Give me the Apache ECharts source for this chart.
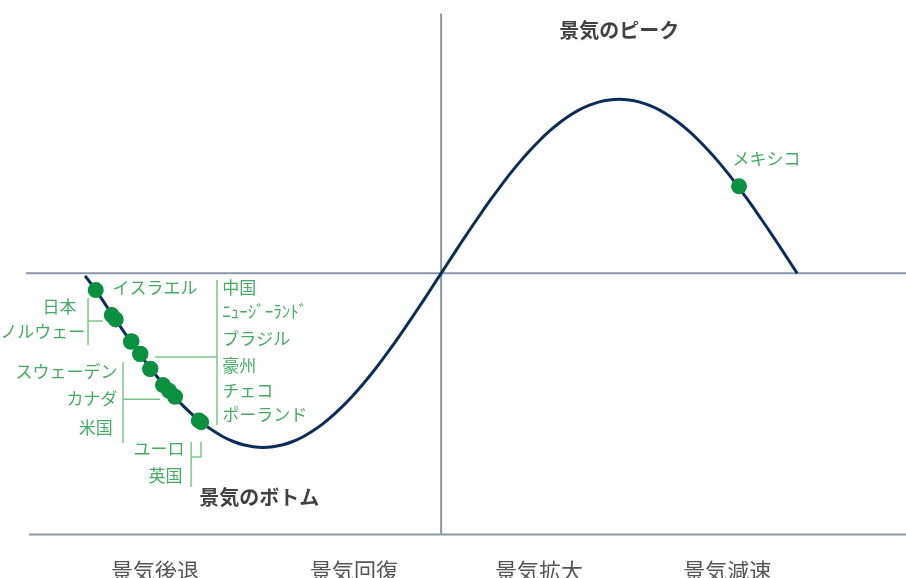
<!DOCTYPE html>
<html>
<head>
<meta charset="utf-8">
<script src="https://cdn.jsdelivr.net/npm/echarts@6/dist/echarts.min.js"></script>
<style>
html,body{margin:0;padding:0;background:#fff;}
#chart{width:906px;height:578px;}
</style>
</head>
<body>
<div id="chart"></div>
<script>
// Business-cycle curve (phase in degrees, cycle value), read every 5 degrees
const curveT = [-180,-175,-170,-165,-160,-155,-150,-145,-140,-135,-130,-125,-120,-115,-110,-105,-100,-95,-90,-85,-80,-75,-70,-65,-60,-55,-50,-45,-40,-35,-30,-25,-20,-15,-10,-5,0,5,10,15,20,25,30,35,40,45,50,55,60,65,70,75,80,85,90,95,100,105,110,115,120,125,130,135,140,145,150,155,160,165,170,175,180];
const curveV = [-0.015,-0.09,-0.174,-0.259,-0.342,-0.423,-0.5,-0.574,-0.643,-0.707,-0.766,-0.819,-0.866,-0.906,-0.94,-0.966,-0.985,-0.996,-1.0,-0.996,-0.985,-0.966,-0.94,-0.906,-0.866,-0.819,-0.766,-0.707,-0.643,-0.574,-0.5,-0.423,-0.342,-0.259,-0.174,-0.087,0,0.087,0.174,0.259,0.342,0.423,0.5,0.574,0.643,0.707,0.766,0.819,0.866,0.906,0.94,0.966,0.985,0.996,1.0,0.996,0.985,0.966,0.94,0.906,0.866,0.819,0.766,0.707,0.643,0.574,0.5,0.423,0.342,0.259,0.174,0.087,0];

// Countries placed on the curve
const countryNames = ['イスラエル','日本','ノルウェー','中国','ﾆｭｰｼﾞｰﾗﾝﾄﾞ','ブラジル','豪州','チェコ','ポーランド','スウェーデン','カナダ','米国','ユーロ','英国','メキシコ'];
const countryT = [-174.6,-166.5,-164.5,-156.8,-156.5,-152.2,-152.0,-147.1,-147.0,-140.6,-137.5,-134.5,-122.5,-121.3,150.6];
const countryV = [-0.096,-0.24,-0.265,-0.393,-0.39,-0.464,-0.462,-0.55,-0.548,-0.642,-0.675,-0.709,-0.845,-0.855,0.5];

// Country label anchors (data coords) and side
const labelNames = ['イスラエル','日本','ノルウェー','スウェーデン','カナダ','米国','中国','ﾆｭｰｼﾞｰﾗﾝﾄﾞ','ブラジル','豪州','チェコ','ポーランド','ユーロ','英国','メキシコ'];
const labelT = [-166.4,-184.1,-179.6,-163.3,-163.3,-165.8,-110.9,-110.9,-110.9,-110.9,-110.9,-110.9,-129.5,-130.5,147];
const labelV = [-0.079,-0.188,-0.337,-0.567,-0.722,-0.888,-0.084,-0.222,-0.377,-0.527,-0.676,-0.814,-1.009,-1.159,0.657];
const labelSide = ['right','left','left','left','left','left','right','right','right','right','right','right','left','left','right'];

// Phase titles
const peakTitle = '景気のピーク';
const bottomTitle = '景気のボトム';
const titleT = [90, -92];
const titleV = [1.397, -1.285];

// Phase names along the bottom
const phaseLabels = ['景気後退','景気回復','景気拡大','景気減速'];
const phaseT = [-144.6,-44.0,49.5,144.6];
const phaseV = -1.709;

// Axis lines (data coords)
const axisLines = [
  [[-209.8,0],[235,0]],
  [[-208.3,-1.5],[235,-1.5]],
  [[0,1.493],[0,-1.5]]
];

// Bracket lines grouping labels to points
const bracketLines = [
  [[-178.5,-0.142],[-178.5,-0.412]],
  [[-178.5,-0.274],[-171.0,-0.274]],
  [[-160.8,-0.509],[-160.8,-0.975]],
  [[-160.8,-0.723],[-142.1,-0.723]],
  [[-113.3,-0.038],[-113.3,-0.871]],
  [[-113.3,-0.481],[-144.6,-0.481]],
  [[-121.4,-0.969],[-121.4,-1.055],[-126.4,-1.055]],
  [[-126.4,-0.969],[-126.4,-1.228]]
];

const FONT = '"Noto Sans CJK JP", "Noto Sans", sans-serif';
const chart = echarts.init(document.getElementById('chart'), null, {renderer:'canvas'});

const option = {
  animation: false,
  backgroundColor: '#ffffff',
  grid: {left:0, right:0, top:0, bottom:0},
  xAxis: {type:'value', min:-223, max:235, show:false},
  yAxis: {type:'value', min:-1.75, max:1.57, show:false},
  series: [
    {
      type:'lines', coordinateSystem:'cartesian2d', polyline:true, silent:true, z:1,
      data: axisLines.map(c => ({coords:c})),
      lineStyle:{color:'#8a97a8', width:2, opacity:1}
    },
    {
      type:'lines', coordinateSystem:'cartesian2d', polyline:true, silent:true, z:1,
      data: bracketLines.map(c => ({coords:c})),
      lineStyle:{color:'#7cc68a', width:1.5, opacity:1}
    },
    {
      type:'line', z:2, smooth:0.3, symbol:'none', silent:true,
      data: curveT.map((t,i) => [t, curveV[i]]),
      lineStyle:{color:'#0c2c5c', width:3}
    },
    {
      type:'scatter', z:3, symbolSize:16, silent:true,
      data: countryT.map((t,i) => ({name:countryNames[i], value:[t, countryV[i]]})),
      itemStyle:{color:'#0a9140', opacity:1}
    },
    {
      type:'scatter', z:4, symbolSize:1, silent:true,
      itemStyle:{color:'rgba(0,0,0,0)'},
      data: labelT.map((t,i) => ({
        name: labelNames[i], value:[t, labelV[i]],
        label:{position: labelSide[i]}
      })),
      label:{show:true, formatter:'{b}', distance:0, color:'#15963f', fontSize:17, fontFamily:FONT}
    },
    {
      type:'scatter', z:4, symbolSize:1, silent:true,
      itemStyle:{color:'rgba(0,0,0,0)'},
      data: [peakTitle, bottomTitle].map((n,i) => ({name:n, value:[titleT[i], titleV[i]]})),
      label:{show:true, position:'inside', formatter:'{b}', color:'#111111', fontSize:20, fontWeight:'bold', fontFamily:FONT}
    },
    {
      type:'scatter', z:4, symbolSize:1, silent:true,
      itemStyle:{color:'rgba(0,0,0,0)'},
      data: phaseLabels.map((n,i) => ({name:n, value:[phaseT[i], phaseV]})),
      label:{show:true, position:'inside', formatter:'{b}', color:'#2a2a2a', fontSize:22, fontFamily:FONT}
    }
  ]
};
chart.setOption(option);
</script>
</body>
</html>
